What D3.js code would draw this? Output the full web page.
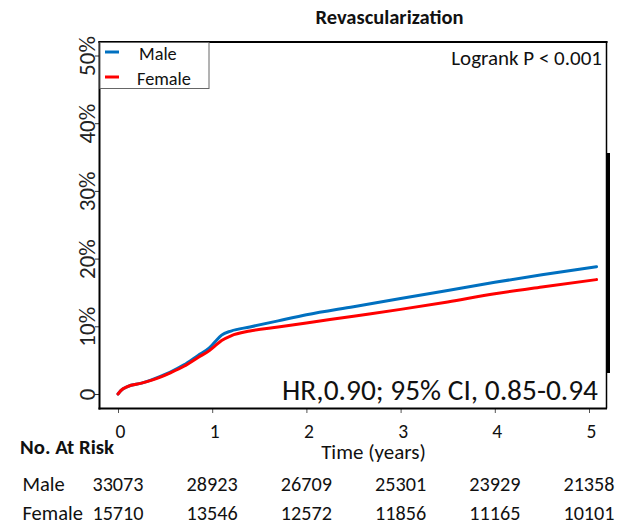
<!DOCTYPE html>
<html>
<head>
<meta charset="utf-8">
<script src="https://cdn.jsdelivr.net/npm/d3@7"></script>
<style>
  html, body { margin: 0; padding: 0; background: #fff; }
  svg { display: block; font-family: Carlito, Lato, sans-serif; }
</style>
</head>
<body>
<svg id="chart" width="618" height="525"></svg>
<script>
// Cumulative incidence of revascularization by sex (Kaplan–Meier style curves)
const times  = [0, 0.03, 0.1, 0.25, 0.45, 0.55, 0.7, 0.85, 0.97, 1.03, 1.1, 1.2, 1.4, 1.7, 2.0, 2.5, 3.0, 3.5, 4.0, 4.5, 5.08];
const male   = [0, 0.5, 1.1, 1.6, 2.6, 3.2, 4.3, 5.7, 6.8, 7.7, 8.7, 9.3, 9.9, 10.8, 11.7, 12.9, 14.1, 15.3, 16.5, 17.6, 18.8];
const female = [0, 0.5, 1.1, 1.6, 2.5, 3.1, 4.1, 5.4, 6.4, 7.1, 7.9, 8.6, 9.3, 9.9, 10.5, 11.5, 12.5, 13.6, 14.8, 15.8, 16.9];

const groups = ["Male", "Female"];
const colors = ["#0070C0", "#FF0000"];

const xTicks = [0, 1, 2, 3, 4, 5];
const yTicks = [0, 10, 20, 30, 40, 50];

// Numbers at risk at each yearly tick
const riskMale   = [33073, 28923, 26709, 25301, 23929, 21358];
const riskFemale = [15710, 13546, 12572, 11856, 11165, 10101];

const title = "Revascularization";
const pText = "Logrank P < 0.001";
const hrText = "HR,0.90; 95% CI, 0.85-0.94";

const svg = d3.select("#chart");

const x = d3.scaleLinear().domain([0, 5]).range([118, 589]);
const y = d3.scaleLinear().domain([0, 50]).range([394, 55.5]);

const frame = { left: 99.5, right: 606.5, top: 42, bottom: 408.5 };

// Title
svg.append("text")
  .attr("x", 389.5).attr("y", 23.5)
  .attr("text-anchor", "middle")
  .attr("font-weight", "bold")
  .attr("font-size", 20.5)
  .attr("fill", "#111")
  .text(title);

// Curves
const line = d3.line()
  .x(d => x(d[0]))
  .y(d => y(d[1]))
  .curve(d3.curveMonotoneX);

[male, female].forEach((vals, i) => {
  svg.append("path")
    .datum(times.map((t, j) => [t, vals[j]]))
    .attr("fill", "none")
    .attr("stroke", colors[i])
    .attr("stroke-width", 3)
    .attr("stroke-linejoin", "round")
    .attr("stroke-linecap", "round")
    .attr("d", line);
});

// Y axis ticks with rotated labels
const yAxis = d3.axisLeft(y)
  .tickValues(yTicks)
  .tickSize(4.5)
  .tickFormat(d => d === 0 ? "0" : d + "%");

const gy = svg.append("g")
  .attr("transform", `translate(${frame.left},0)`)
  .call(yAxis);
gy.select(".domain").remove();
gy.selectAll(".tick line").attr("stroke", "#333").attr("stroke-width", 1);
gy.selectAll(".tick text")
  .attr("x", null).attr("dy", null)
  .attr("transform", "translate(-4.5,0) rotate(-90)")
  .attr("text-anchor", "middle")
  .attr("font-size", 23)
  .attr("font-family", "Carlito, Lato, sans-serif")
  .attr("fill", "#222");

// X axis ticks and labels
const xAxis = d3.axisBottom(x)
  .tickValues(xTicks)
  .tickSize(4.5)
  .tickPadding(12)
  .tickFormat(d3.format("d"));

const gx = svg.append("g")
  .attr("transform", `translate(0,${frame.bottom})`)
  .call(xAxis);
gx.select(".domain").remove();
gx.selectAll(".tick line").attr("stroke", "#555").attr("stroke-width", 1);
gx.selectAll(".tick text")
  .attr("y", null).attr("dy", null)
  .attr("transform", "translate(2,29)")
  .attr("font-size", 19.5)
  .attr("font-family", "Carlito, Lato, sans-serif")
  .attr("fill", "#111");

// Plot frame
const fr = svg.append("g").attr("stroke", "#000").attr("fill", "none");
fr.append("line").attr("x1", frame.left - 1).attr("x2", frame.right + 1)
  .attr("y1", frame.top).attr("y2", frame.top).attr("stroke-width", 2);
fr.append("line").attr("x1", frame.left).attr("x2", frame.left)
  .attr("y1", frame.top - 1).attr("y2", frame.bottom + 1).attr("stroke-width", 2);
fr.append("line").attr("x1", frame.left - 1).attr("x2", frame.right + 0.5)
  .attr("y1", frame.bottom).attr("y2", frame.bottom).attr("stroke-width", 2);
fr.append("line").attr("x1", frame.right).attr("x2", frame.right)
  .attr("y1", frame.top - 1).attr("y2", frame.bottom).attr("stroke-width", 1.5);
fr.append("line").attr("x1", frame.right + 2).attr("x2", frame.right + 2)
  .attr("y1", 153).attr("y2", 373).attr("stroke-width", 3);

// Legend
const lg = svg.append("g");
lg.append("rect")
  .attr("x", frame.left + 0.5).attr("y", frame.top + 0.5)
  .attr("width", 109).attr("height", 46)
  .attr("fill", "#fff").attr("stroke", "#666").attr("stroke-width", 1);
groups.forEach((g, i) => {
  const cy = 52 + i * 25;
  lg.append("line")
    .attr("x1", 105).attr("x2", 119)
    .attr("y1", cy).attr("y2", cy)
    .attr("stroke", colors[i]).attr("stroke-width", 3);
  lg.append("text")
    .attr("x", i === 0 ? 139 : 137).attr("y", cy + 8)
    .attr("font-size", 18.3)
    .attr("fill", "#111")
    .text(g);
});

// Statistics annotations
svg.append("text")
  .attr("x", 602).attr("y", 65)
  .attr("text-anchor", "end")
  .attr("font-size", 21)
  .attr("fill", "#111")
  .text(pText);

svg.append("text")
  .attr("x", 598).attr("y", 400)
  .attr("text-anchor", "end")
  .attr("font-size", 29.4)
  .attr("fill", "#111")
  .text(hrText);

// Numbers-at-risk table
svg.append("text")
  .attr("x", 20).attr("y", 454)
  .attr("font-weight", "bold")
  .attr("font-size", 20.8)
  .attr("fill", "#111")
  .text("No. At Risk");

svg.append("text")
  .attr("x", 373.5).attr("y", 459)
  .attr("text-anchor", "middle")
  .attr("font-size", 21)
  .attr("fill", "#111")
  .text("Time (years)");

[[riskMale, 491], [riskFemale, 520]].forEach(([vals, by], i) => {
  svg.append("text")
    .attr("x", 22.5).attr("y", by)
    .attr("font-size", 20.5)
    .attr("fill", "#111")
    .text(groups[i]);
  svg.append("g").selectAll("text")
    .data(vals)
    .join("text")
    .attr("x", (d, j) => x(xTicks[j]))
    .attr("y", by)
    .attr("text-anchor", "middle")
    .attr("font-size", 20.2)
    .attr("fill", "#111")
    .text(d => d);
});
</script>
</body>
</html>
